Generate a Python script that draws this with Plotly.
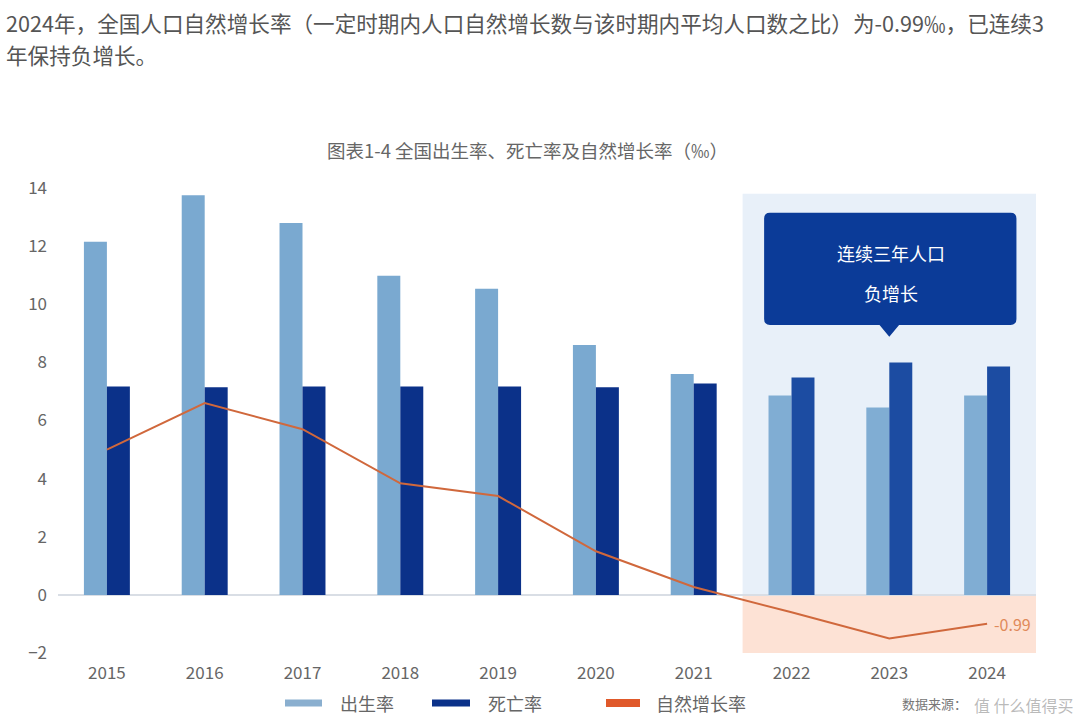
import plotly.graph_objects as go

years = ["2015", "2016", "2017", "2018", "2019", "2020", "2021", "2022", "2023", "2024"]
birth_rate = [12.15, 13.75, 12.8, 10.98, 10.53, 8.6, 7.6, 6.86, 6.45, 6.86]
death_rate = [7.17, 7.14, 7.17, 7.17, 7.17, 7.14, 7.27, 7.48, 8.0, 7.86]
natural_growth = [5.0, 6.6, 5.7, 3.84, 3.4, 1.5, 0.27, -0.6, -1.5, -0.99]
y_ticks = [-2, 0, 2, 4, 6, 8, 10, 12, 14]

W, H = 1080, 728
ML, MR, MT, MB = 58, 44, 188, 75
PW, PH = W - ML - MR, H - MT - MB
CJK = "Noto Sans CJK SC"

def pxx(x):
    return (x - ML) / PW

def pxy(y):
    return (H - MB - y) / PH

neg_start = 7  # index of first year in the highlighted period
birth_colors = ["#7AA9D0" if i < neg_start else "#80ADD3" for i in range(len(years))]
death_colors = ["#0B3189" if i < neg_start else "#1C4CA2" for i in range(len(years))]

fig = go.Figure()
fig.add_trace(go.Bar(x=years, y=birth_rate, name="出生率", marker=dict(color=birth_colors, line_width=0)))
fig.add_trace(go.Bar(x=years, y=death_rate, name="死亡率", marker=dict(color=death_colors, line_width=0)))
fig.add_trace(go.Scatter(x=years, y=natural_growth, name="自然增长率", mode="lines",
                         line=dict(color="#D0683C", width=2)))

shapes = []
# highlighted region (2022-2024)
shapes.append(dict(type="rect", xref="x", yref="y", x0=neg_start - 0.5, x1=len(years) - 0.5,
                   y0=0, y1=13.8, fillcolor="#E8F0F9", line_width=0, layer="below"))
shapes.append(dict(type="rect", xref="x", yref="y", x0=neg_start - 0.5, x1=len(years) - 0.5,
                   y0=-2, y1=0, fillcolor="#FDE2D5", line_width=0, layer="below"))

# callout box
x0, x1, y0, y1 = 6.72, 9.30, 9.29, 13.15
rx, ry = 0.06, 0.2
tx, tip = 8.0, 8.88
path = (f"M {x0+rx},{y1} L {x1-rx},{y1} Q {x1},{y1} {x1},{y1-ry} L {x1},{y0+ry} "
        f"Q {x1},{y0} {x1-rx},{y0} L {tx+0.1},{y0} L {tx},{tip} L {tx-0.1},{y0} "
        f"L {x0+rx},{y0} Q {x0},{y0} {x0},{y0+ry} L {x0},{y1-ry} Q {x0},{y1} {x0+rx},{y1} Z")
shapes.append(dict(type="path", xref="x", yref="y", path=path, fillcolor="#0B3B98", line_width=0))

# legend swatches
ly = pxy(703)
shapes.append(dict(type="line", xref="paper", yref="paper", x0=pxx(285), x1=pxx(322), y0=ly, y1=ly,
                   line=dict(color="#8AAFCF", width=7)))
shapes.append(dict(type="line", xref="paper", yref="paper", x0=pxx(432), x1=pxx(470), y0=ly, y1=ly,
                   line=dict(color="#0B3189", width=7)))
shapes.append(dict(type="line", xref="paper", yref="paper", x0=pxx(606), x1=pxx(640), y0=ly, y1=ly,
                   line=dict(color="#E0592A", width=8)))

annotations = [
    dict(text="2024年，全国人口自然增长率（一定时期内人口自然增长数与该时期内平均人口数之比）为-0.99‰，已连续3",
         xref="paper", yref="paper", x=pxx(4), y=pxy(22), xanchor="left", yanchor="middle",
         showarrow=False, font=dict(family=CJK, size=21.6, color="#555555")),
    dict(text="年保持负增长。", xref="paper", yref="paper", x=pxx(4), y=pxy(55), xanchor="left",
         yanchor="middle", showarrow=False, font=dict(family=CJK, size=21.6, color="#555555")),
    dict(text="图表1-4 全国出生率、死亡率及自然增长率（‰）", xref="paper", yref="paper",
         x=pxx(527), y=pxy(150), xanchor="center", yanchor="middle", showarrow=False,
         font=dict(family=CJK, size=18.5, color="#666666")),
    dict(text="连续三年人口", xref="x", yref="y", x=8.02, y=11.77, showarrow=False,
         font=dict(family=CJK, size=18, color="white")),
    dict(text="负增长", xref="x", yref="y", x=8.02, y=10.39, showarrow=False,
         font=dict(family=CJK, size=18, color="white")),
    dict(text="-0.99", xref="x", yref="y", x=len(years) - 1, y=natural_growth[-1], xanchor="left",
         yanchor="middle", xshift=5, showarrow=False, font=dict(family=CJK, size=16, color="#E08A5A")),
    dict(text="出生率", xref="paper", yref="paper", x=pxx(338), y=ly, xanchor="left", yanchor="middle",
         showarrow=False, font=dict(family=CJK, size=18, color="#666666")),
    dict(text="死亡率", xref="paper", yref="paper", x=pxx(486), y=ly, xanchor="left", yanchor="middle",
         showarrow=False, font=dict(family=CJK, size=18, color="#666666")),
    dict(text="自然增长率", xref="paper", yref="paper", x=pxx(654), y=ly, xanchor="left", yanchor="middle",
         showarrow=False, font=dict(family=CJK, size=18, color="#666666")),
    dict(text="数据来源：", xref="paper", yref="paper", x=pxx(900), y=ly, xanchor="left",
         yanchor="middle", showarrow=False, font=dict(family=CJK, size=13, color="#777777")),
    dict(text="值 什么值得买", xref="paper", yref="paper", x=pxx(1076), y=pxy(705), xanchor="right",
         yanchor="middle", showarrow=False, font=dict(family=CJK, size=16, color="rgba(140,140,140,0.6)")),
]

fig.update_layout(
    width=W, height=H,
    margin=dict(l=ML, r=MR, t=MT, b=MB),
    paper_bgcolor="white", plot_bgcolor="white",
    barmode="group", bargap=0.53, bargroupgap=0,
    showlegend=False,
    shapes=shapes, annotations=annotations,
    xaxis=dict(type="category", range=[-0.5, len(years) - 0.5], showgrid=False, showline=False,
               ticks="", ticklabelstandoff=8, tickfont=dict(family=CJK, size=17, color="#666666")),
    yaxis=dict(range=[-2, 14], tickvals=y_ticks, showgrid=False, showline=False,
               zeroline=True, zerolinecolor="#D9DEE5", zerolinewidth=1.5, ticks="",
               ticklabelstandoff=10, tickfont=dict(family=CJK, size=17, color="#666666")),
)

fig.write_html("out.html")
